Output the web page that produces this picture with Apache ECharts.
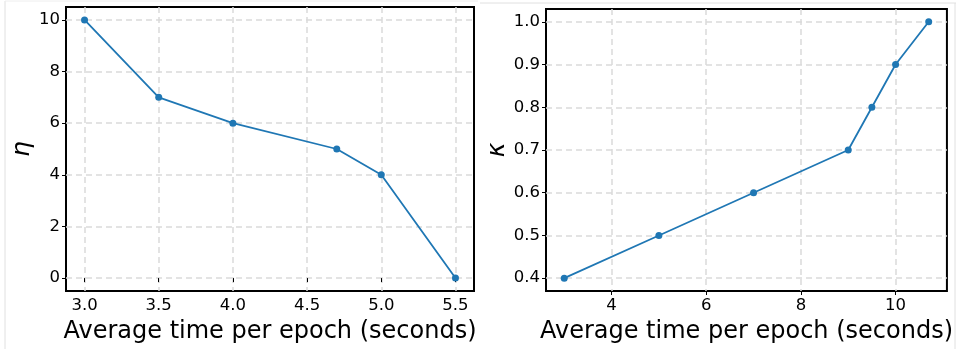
<!DOCTYPE html>
<html>
<head>
<meta charset="utf-8">
<script src="https://cdn.jsdelivr.net/npm/echarts@6/dist/echarts.min.js"></script>
<style>
  html, body { margin: 0; padding: 0; background: #fff; }
  #chart { width: 956px; height: 349px; }
</style>
</head>
<body>
<div id="chart"></div>
<script>
// left panel: eta vs time
const etaTime = [3.0, 3.5, 4.0, 4.7, 5.0, 5.5];
const etaValues = [10, 7, 6, 5, 4, 0];
const etaXTicks = [3.0, 3.5, 4.0, 4.5, 5.0, 5.5];
const etaYTicks = [0, 2, 4, 6, 8, 10];

// right panel: kappa vs time
const kappaTime = [3, 5, 7, 9, 9.5, 10, 10.7];
const kappaValues = [0.4, 0.5, 0.6, 0.7, 0.8, 0.9, 1.0];
const kappaXTicks = [4, 6, 8, 10];
const kappaYTicks = [0.4, 0.5, 0.6, 0.7, 0.8, 0.9, 1.0];

const FONT = "'DejaVu Sans', sans-serif";
const LINE = '#1f77b4';

function makeAxis(opts) {
  return {
    type: 'value',
    gridIndex: opts.grid,
    min: opts.min,
    max: opts.max,
    name: opts.name,
    nameLocation: 'middle',
    nameGap: opts.nameGap,
    nameRotate: opts.nameRotate,
    nameTextStyle: {
      color: '#000',
      fontSize: opts.nameSize,
      fontFamily: FONT,
      fontStyle: opts.italic ? 'italic' : 'normal',
    },
    axisLine: { show: false },
    axisTick: {
      show: true,
      length: 4,
      customValues: opts.ticks,
      lineStyle: { color: '#000', width: 1 },
    },
    axisLabel: {
      customValues: opts.ticks,
      color: '#000',
      fontSize: 16.5,
      fontFamily: FONT,
      margin: 6,
      formatter: opts.fmt,
    },
    splitLine: {
      show: true,
      lineStyle: { color: '#dadada', type: [6, 4], width: 1.5 },
    },
  };
}

const chart = echarts.init(document.getElementById('chart'));
chart.setOption({
  animation: false,
  grid: [
    { left: 66, top: 7, width: 408, height: 289, show: true, borderColor: '#000', borderWidth: 2, backgroundColor: 'transparent' },
    { left: 546, top: 9, width: 403, height: 288, show: true, borderColor: '#000', borderWidth: 2, backgroundColor: 'transparent' },
  ],
  xAxis: [
    makeAxis({ grid: 0, min: 2.875, max: 5.625, ticks: etaXTicks, name: 'Average time per epoch (seconds)', nameGap: 29, nameSize: 24, fmt: (v) => v.toFixed(1) }),
    makeAxis({ grid: 1, min: 2.615, max: 11.085, ticks: kappaXTicks, name: 'Average time per epoch (seconds)', nameGap: 29, nameSize: 24, fmt: (v) => String(v) }),
  ],
  yAxis: [
    makeAxis({ grid: 0, min: -0.5, max: 10.5, ticks: etaYTicks, name: 'η', nameGap: 24, nameRotate: 90, nameSize: 25, italic: true, fmt: (v) => String(v) }),
    makeAxis({ grid: 1, min: 0.37, max: 1.03, ticks: kappaYTicks, name: 'κ', nameGap: 29, nameRotate: 90, nameSize: 25, italic: true, fmt: (v) => v.toFixed(1) }),
  ],
  series: [
    {
      type: 'line',
      xAxisIndex: 0,
      yAxisIndex: 0,
      data: etaTime.map((t, i) => [t, etaValues[i]]),
      symbol: 'circle',
      symbolSize: 7,
      itemStyle: { color: LINE },
      lineStyle: { color: LINE, width: 1.8 },
    },
    {
      type: 'line',
      xAxisIndex: 1,
      yAxisIndex: 1,
      data: kappaTime.map((t, i) => [t, kappaValues[i]]),
      symbol: 'circle',
      symbolSize: 7,
      itemStyle: { color: LINE },
      lineStyle: { color: LINE, width: 1.8 },
    },
  ],
  graphic: [
    // faint crop borders around the two panels
    { type: 'line', shape: { x1: 5, y1: 1, x2: 5, y2: 349 }, style: { stroke: '#e0e0e0', lineWidth: 1 } },
    { type: 'line', shape: { x1: 5, y1: 1, x2: 478, y2: 1 }, style: { stroke: '#eeeeee', lineWidth: 1 } },
    { type: 'line', shape: { x1: 480, y1: 3, x2: 956, y2: 3 }, style: { stroke: '#e0e0e0', lineWidth: 1 } },
    { type: 'line', shape: { x1: 955, y1: 3, x2: 955, y2: 349 }, style: { stroke: '#e0e0e0', lineWidth: 1 } },
  ],
});
</script>
</body>
</html>
